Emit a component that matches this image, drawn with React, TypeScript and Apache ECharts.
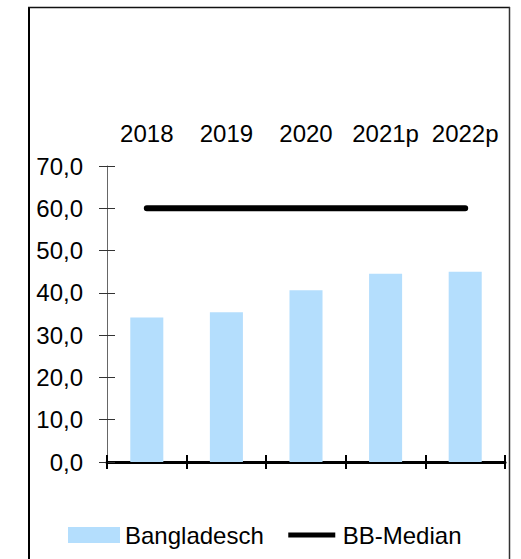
import React, { useEffect, useRef } from "react";
import * as echarts from "echarts";

const categories = ["2018", "2019", "2020", "2021p", "2022p"];
const bangladesch = [34.2, 35.4, 40.6, 44.5, 45.0];
const bbMedian = [60, 60, 60, 60, 60];
const yMin = 0;
const yMax = 70;
const yStep = 10;

const FONT = "'Liberation Sans', Arial, sans-serif";
const FS = 24;

export default function App() {
  const ref = useRef<HTMLDivElement>(null);
  useEffect(() => {
    if (!ref.current) return;
    const chart = echarts.init(ref.current, undefined, { renderer: "svg" });
    const fmt = (v: number) => v.toFixed(1).replace(".", ",");
    chart.setOption({
      animation: false,
      backgroundColor: "#ffffff",
      textStyle: { fontFamily: FONT },
      grid: { left: 107, right: 16, top: 166, bottom: 97 },
      xAxis: [
        {
          type: "category",
          data: categories,
          position: "bottom",
          boundaryGap: true,
          axisLine: { show: true, onZero: false, lineStyle: { color: "#000", width: 3 } },
          axisTick: { show: true, length: 7, lineStyle: { color: "#000", width: 2 } },
          axisLabel: { show: false },
          splitLine: { show: false },
        },
        {
          type: "category",
          data: categories,
          position: "bottom",
          boundaryGap: true,
          axisLine: { show: false, onZero: false },
          axisTick: { show: true, inside: true, length: 7, lineStyle: { color: "#000", width: 2 } },
          axisLabel: { show: false },
          splitLine: { show: false },
        },
        {
          type: "category",
          data: categories,
          position: "top",
          boundaryGap: true,
          axisLine: { show: false, onZero: false },
          axisTick: { show: false },
          axisLabel: { show: true, interval: 0, color: "#000", fontSize: FS, fontFamily: FONT, margin: 21 },
          splitLine: { show: false },
        },
      ],
      yAxis: [
        {
          type: "value",
          min: yMin,
          max: yMax,
          interval: yStep,
          position: "left",
          axisLine: { show: true, lineStyle: { color: "#666", width: 1 } },
          axisTick: { show: true, length: 8, lineStyle: { color: "#333", width: 1 } },
          axisLabel: { color: "#000", fontSize: FS, fontFamily: FONT, margin: 24, formatter: fmt },
          splitLine: { show: false },
        },
        {
          type: "value",
          min: yMin,
          max: yMax,
          interval: yStep,
          position: "left",
          axisLine: { show: false },
          axisTick: { show: true, inside: true, length: 8, lineStyle: { color: "#333", width: 1 } },
          axisLabel: { show: false },
          splitLine: { show: false },
        },
      ],
      legend: {
        left: 68,
        top: 523,
        padding: 0,
        itemWidth: 52,
        itemHeight: 16,
        itemGap: 22,
        textStyle: { color: "#000", fontSize: FS, fontFamily: FONT },
        data: [
          { name: "Bangladesch", icon: "rect" },
          {
            name: "BB-Median",
            icon: "path://M0,0 M52,16 M2.5,5.5 L49.5,5.5 L49.5,10.5 L2.5,10.5 Z",
            itemStyle: { color: "#000", borderWidth: 0 },
          },
        ],
      },
      series: [
        {
          name: "Bangladesch",
          type: "bar",
          data: bangladesch,
          barWidth: "41.5%",
          itemStyle: { color: "#b4defd" },
          z: 2,
        },
        {
          name: "BB-Median",
          type: "line",
          data: bbMedian,
          symbol: "none",
          lineStyle: { color: "#000", width: 6, cap: "round" },
          itemStyle: { color: "#000" },
          z: 3,
        },
      ],
      graphic: [
        { type: "line", shape: { x1: 29, y1: 7.5, x2: 29, y2: 570 }, style: { stroke: "#000", lineWidth: 2 } },
        { type: "line", shape: { x1: 28, y1: 7.5, x2: 510, y2: 7.5 }, style: { stroke: "#111", lineWidth: 1.7 } },
        { type: "line", shape: { x1: 509.5, y1: 7, x2: 509.5, y2: 570 }, style: { stroke: "#333", lineWidth: 1.5 } },
      ],
    });
    return () => chart.dispose();
  }, []);
  return (
    <div
      ref={ref}
      style={{ position: "fixed", left: 0, top: 0, width: 521, height: 559, background: "#fff" }}
    />
  );
}
